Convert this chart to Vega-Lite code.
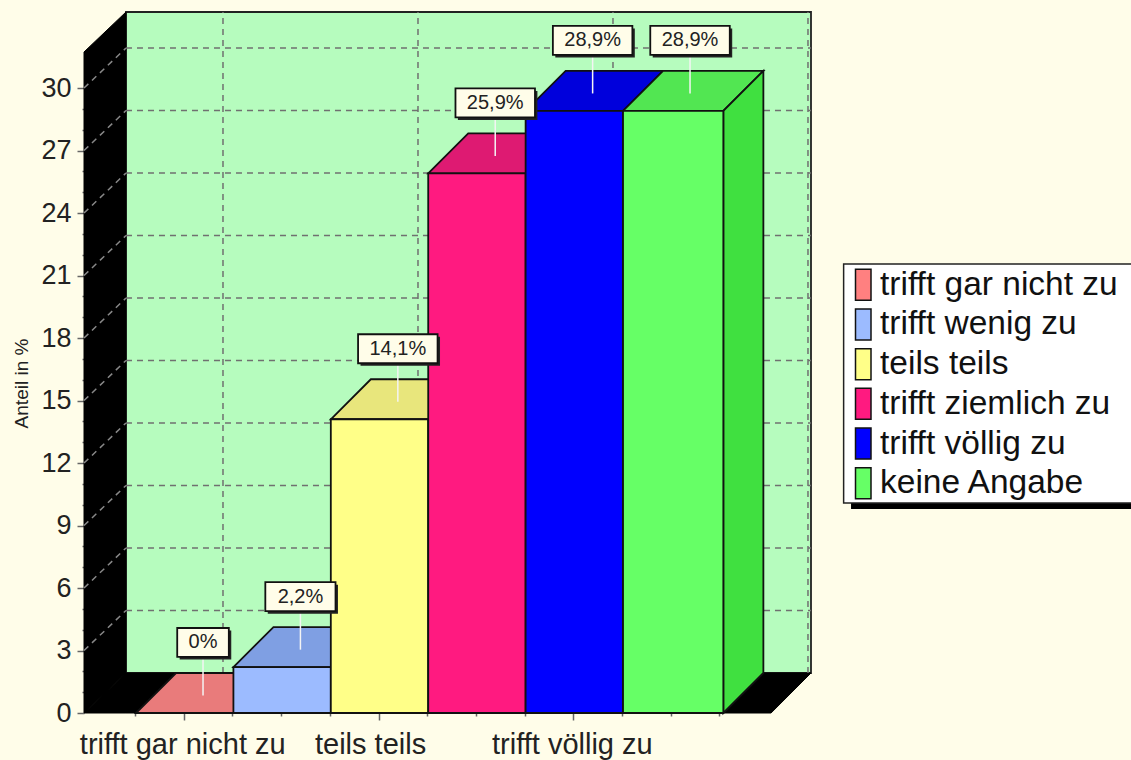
{
"$schema":"https://vega.github.io/schema/vega-lite/v6.json",
"width":727,"height":701,
"autosize":"none",
"padding":{"left":84,"top":12,"right":320,"bottom":47},
"background":"#FFFDE9",
"config":{"view":{"stroke":null},"font":"Liberation Sans"},
"datasets":{
"bars":[
{"cat":"trifft gar nicht zu","i":0,"w":1,"v":0,"label":"0%"},
{"cat":"trifft wenig zu","i":1,"w":1,"v":2.2,"label":"2,2%"},
{"cat":"teils teils","i":2,"w":1,"v":14.1,"label":"14,1%"},
{"cat":"trifft ziemlich zu","i":3,"w":1,"v":25.9,"label":"25,9%"},
{"cat":"trifft völlig zu","i":4,"w":1,"v":28.9,"label":"28,9%"},
{"cat":"keine Angabe","i":5,"w":1.03,"v":28.9,"label":"28,9%"}],
"walls":[
{"part":"back","x":-0.103,"lo":1.92,"hi":33.65},
{"part":"back","x":6.93,"lo":1.92,"hi":33.65},
{"part":"left","x":-0.534,"lo":0,"hi":31.73},
{"part":"left","x":-0.103,"lo":1.92,"hi":33.65},
{"part":"floor","x":-0.534,"lo":0,"hi":0},
{"part":"floor","x":-0.103,"lo":0,"hi":1.92},
{"part":"floor","x":6.52,"lo":0,"hi":1.92},
{"part":"floor","x":6.93,"lo":1.92,"hi":1.92}],
"gridY":[{"g":3},{"g":6},{"g":9},{"g":12},{"g":15},{"g":18},{"g":21},{"g":24},{"g":27},{"g":30}],
"gridX":[{"g":0.893},{"g":2.895},{"g":4.897},{"g":6.899}],
"panel":[{"part":"shadow","xa":7.341,"xb":10.26,"ya":21.17,"yb":9.79},{"part":"box","xa":7.265,"xb":10.26,"ya":21.55,"yb":10.08}]
},
"data":{"name":"bars"},
"layer":[
{"data":{"name":"walls"},"transform":[{"filter":"datum.part=='back'"}],
 "mark":{"type":"area","fill":"#B6FCBE","stroke":"#222","strokeWidth":1.8},
 "encoding":{
  "x":{"field":"x","type":"quantitative","scale":{"domain":[-0.534,6.93],"nice":false,"zero":false},
   "axis":{"title":null,"domain":false,"grid":false,"tickCount":40,
    "values":[-0.01,0.49,0.99,1.49,1.99,2.49,2.99,3.49,3.99,4.49,4.99,5.49,5.99],
    "labelExpr":"datum.value==0.49?'trifft gar nicht zu':datum.value==2.49?'teils teils':datum.value==4.49?'trifft völlig zu':''",
    "labelOverlap":false,"labelFlush":false,"labelFontSize":29,"labelColor":"#222","labelPadding":10,"labelBound":false,"labelLimit":320,
    "labelOffset":{"condition":{"test":"datum.value==2.49","value":-8.5},"value":-1.5},
    "tickColor":"#666","tickWidth":1.5,
    "tickSize":{"condition":{"test":"datum.value==0.49||datum.value==2.49||datum.value==4.49","value":7},"value":3}}},
  "y":{"field":"hi","type":"quantitative","stack":null,"scale":{"domain":[0,33.65],"nice":false,"zero":false},
   "axis":{"title":"Anteil in %","titleFontSize":19,"titleFontWeight":"normal","titleColor":"#222","titleX":-53,"titleY":371,
    "domain":false,"grid":false,"tickCount":60,"format":"d",
    "values":[0,1,2,3,4,5,6,7,8,9,10,11,12,13,14,15,16,17,18,19,20,21,22,23,24,25,26,27,28,29,30],
    "labelExpr":"datum.value%3==0?datum.label:''",
    "labelOverlap":false,"labelFontSize":27,"labelColor":"#222","labelPadding":6,"labelBound":false,"labelFlush":false,
    "tickColor":"#666","tickWidth":1.5,
    "tickSize":{"condition":{"test":"datum.value%3==0","value":7},"value":2}}},
  "y2":{"field":"lo"}}},
{"data":{"name":"panel"},"transform":[{"filter":"datum.part=='shadow'"}],
 "mark":{"type":"rect","fill":"#000"},
 "encoding":{"x":{"field":"xa","type":"quantitative"},"x2":{"field":"xb"},"y":{"field":"ya","type":"quantitative"},"y2":{"field":"yb"}}},
{"data":{"name":"panel"},"transform":[{"filter":"datum.part=='box'"}],
 "mark":{"type":"rect","fill":"#fff","stroke":"#222","strokeWidth":1.5},
 "encoding":{"x":{"field":"xa","type":"quantitative"},"x2":{"field":"xb"},"y":{"field":"ya","type":"quantitative"},"y2":{"field":"yb"}}},
{"data":{"name":"walls"},"transform":[{"filter":"datum.part!='back'"}],
 "mark":{"type":"area","fill":"#000","stroke":"#000","strokeWidth":1},
 "encoding":{
  "detail":{"field":"part"},
  "x":{"field":"x","type":"quantitative"},
  "y":{"field":"hi","type":"quantitative","stack":null},
  "y2":{"field":"lo"}}},
{"data":{"name":"gridY"},"transform":[{"calculate":"datum.g+1.92","as":"gb"}],
 "mark":{"type":"rule","color":"#707070","strokeWidth":1.5,"strokeDash":[6,5]},
 "encoding":{"x":{"datum":-0.103,"type":"quantitative"},"x2":{"datum":6.93},"y":{"field":"gb","type":"quantitative"}}},
{"data":{"name":"gridY"},"transform":[{"calculate":"datum.g+1.92","as":"gb"}],
 "mark":{"type":"rule","color":"#888","strokeWidth":1.5,"strokeDash":[6,5]},
 "encoding":{"x":{"datum":-0.534,"type":"quantitative"},"x2":{"datum":-0.103},"y":{"field":"g","type":"quantitative"},"y2":{"field":"gb"}}},
{"data":{"name":"gridX"},
 "mark":{"type":"rule","color":"#707070","strokeWidth":1.5,"strokeDash":[6,5]},
 "encoding":{"x":{"field":"g","type":"quantitative"},"y":{"datum":1.92,"type":"quantitative"},"y2":{"datum":33.65}}},
{"transform":[{"calculate":"[0,1,2,3]","as":"k"},{"flatten":["k"]},
  {"calculate":"datum.i+(datum.k==0?0:datum.k==1?0.411:datum.k==2?datum.w:datum.w+0.411)","as":"px"},
  {"calculate":"datum.v+(datum.k>0?1.92:0)","as":"hi"},
  {"calculate":"datum.v+(datum.k>2?1.92:0)","as":"lo"}],
 "mark":{"type":"area","stroke":"#111","strokeWidth":1.8},
 "encoding":{
  "x":{"field":"px","type":"quantitative"},
  "y":{"field":"hi","type":"quantitative","stack":null},
  "y2":{"field":"lo"},
  "fill":{"field":"i","type":"ordinal","legend":null,
   "scale":{"domain":[0,1,2,3,4,5],
    "range":["#E97B7B","#7F9FE3","#E8E67C","#DE1A72","#0000DC","#52E652"]}}}},
{"transform":[{"filter":"datum.i==5"},{"calculate":"[0,1]","as":"k"},{"flatten":["k"]},
  {"calculate":"datum.i+datum.w+datum.k*0.411","as":"px"},
  {"calculate":"datum.v+datum.k*1.92","as":"hi"},
  {"calculate":"datum.k*1.92","as":"lo"}],
 "mark":{"type":"area","fill":"#40E040","stroke":"#111","strokeWidth":1.8},
 "encoding":{
  "x":{"field":"px","type":"quantitative"},
  "y":{"field":"hi","type":"quantitative","stack":null},
  "y2":{"field":"lo"}}},
{"transform":[{"calculate":"datum.i+datum.w","as":"x1"}],
 "mark":{"type":"rect","stroke":"#111","strokeWidth":1.8},
 "encoding":{
  "x":{"field":"i","type":"quantitative"},"x2":{"field":"x1"},
  "y":{"field":"v","type":"quantitative"},"y2":{"datum":0},
  "color":{"field":"cat","type":"nominal",
   "scale":{"domain":["trifft gar nicht zu","trifft wenig zu","teils teils","trifft ziemlich zu","trifft völlig zu","keine Angabe"],
    "range":["#FF8080","#9CBBFF","#FFFF88","#FF1A80","#0000FF","#66FF66"]},
   "legend":{"title":null,"orient":"none","legendX":758,"legendY":251.5,
    "symbolType":"M-0.5,-1H0.5V1H-0.5Z","symbolSize":961,"symbolStrokeColor":"#111","symbolStrokeWidth":1.5,"symbolOpacity":1,
    "labelFontSize":33.5,"labelColor":"#111","labelOffset":0,"labelLimit":320,"rowPadding":1.7,"padding":4.5}}}},
{"transform":[{"calculate":"datum.i+0.688","as":"cx"},{"calculate":"datum.v+0.84","as":"a"},{"calculate":"datum.v+2.69","as":"b"}],
 "mark":{"type":"rule","color":"#F4F4F4","strokeWidth":1.5},
 "encoding":{"x":{"field":"cx","type":"quantitative"},"y":{"field":"a","type":"quantitative"},"y2":{"field":"b"}}},
{"transform":[{"calculate":"(33+9.3*length(datum.label))/97.4/2","as":"hw"},
  {"calculate":"datum.i+0.688-datum.hw+0.025","as":"xa"},{"calculate":"datum.i+0.688+datum.hw+0.025","as":"xb"},
  {"calculate":"datum.v+2.69-0.12","as":"ya"},{"calculate":"datum.v+4.08-0.12","as":"yb"}],
 "mark":{"type":"rect","fill":"#222"},
 "encoding":{"x":{"field":"xa","type":"quantitative"},"x2":{"field":"xb"},"y":{"field":"ya","type":"quantitative"},"y2":{"field":"yb"}}},
{"transform":[{"calculate":"(33+9.3*length(datum.label))/97.4/2","as":"hw"},
  {"calculate":"datum.i+0.688-datum.hw","as":"xa"},{"calculate":"datum.i+0.688+datum.hw","as":"xb"},
  {"calculate":"datum.v+2.69","as":"ya"},{"calculate":"datum.v+4.08","as":"yb"}],
 "mark":{"type":"rect","fill":"#FFFDE9","stroke":"#111","strokeWidth":1.8},
 "encoding":{"x":{"field":"xa","type":"quantitative"},"x2":{"field":"xb"},"y":{"field":"ya","type":"quantitative"},"y2":{"field":"yb"}}},
{"transform":[{"calculate":"datum.i+0.688","as":"cx"},{"calculate":"datum.v+3.385","as":"cy"}],
 "mark":{"type":"text","fontSize":20,"color":"#222","align":"center","baseline":"middle"},
 "encoding":{"x":{"field":"cx","type":"quantitative"},"y":{"field":"cy","type":"quantitative"},"text":{"field":"label"}}}
]
}
